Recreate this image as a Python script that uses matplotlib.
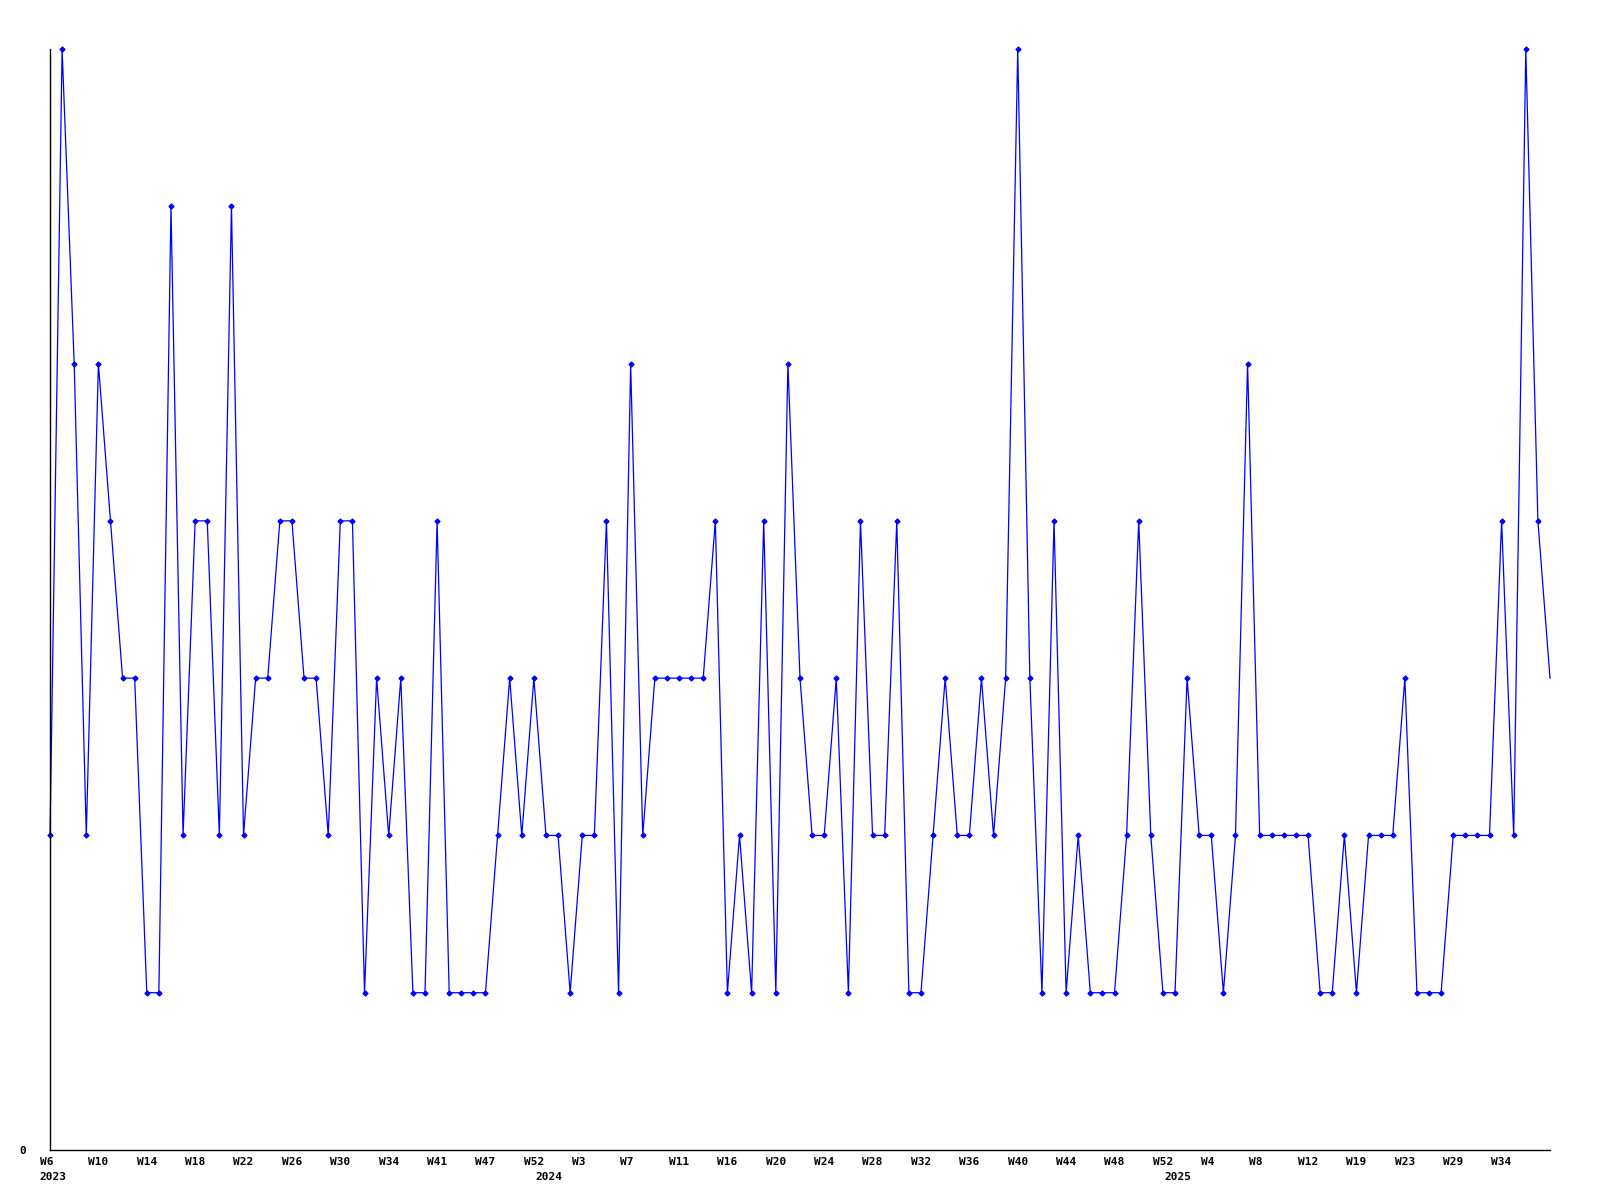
import matplotlib
matplotlib.use("Agg")
import matplotlib.pyplot as plt
import matplotlib.transforms as mtransforms
import numpy as np

# weekly counts, one value per point on the categorical x axis
counts = [2, 7, 5, 2, 5, 4, 3, 3, 1, 1,
          6, 2, 4, 4, 2, 6, 2, 3, 3, 4,
          4, 3, 3, 2, 4, 4, 1, 3, 2, 3,
          1, 1, 4, 1, 1, 1, 1, 2, 3, 2,
          3, 2, 2, 1, 2, 2, 4, 1, 5, 2,
          3, 3, 3, 3, 3, 4, 1, 2, 1, 4,
          1, 5, 3, 2, 2, 3, 1, 4, 2, 2,
          4, 1, 1, 2, 3, 2, 2, 3, 2, 3,
          7, 3, 1, 4, 1, 2, 1, 1, 1, 2,
          4, 2, 1, 1, 3, 2, 2, 1, 2, 5,
          2, 2, 2, 2, 2, 1, 1, 2, 1, 2,
          2, 2, 3, 1, 1, 1, 2, 2, 2, 2,
          4, 2, 7, 4, 3]

# week labels shown every 4th point
week_ticks = [0, 4, 8, 12, 16, 20, 24, 28, 32, 36, 40, 44, 48, 52, 56, 60,
              64, 68, 72, 76, 80, 84, 88, 92, 96, 100, 104, 108, 112, 116, 120]
week_labels = ['W6', 'W10', 'W14', 'W18', 'W22', 'W26', 'W30', 'W34', 'W41',
               'W47', 'W52', 'W3', 'W7', 'W11', 'W16', 'W20', 'W24', 'W28',
               'W32', 'W36', 'W40', 'W44', 'W48', 'W52', 'W4', 'W8', 'W12',
               'W19', 'W23', 'W29', 'W34']

# first point of each year
year_starts = [0, 41, 93]
year_labels = ['2023', '2024', '2025']

x = np.arange(len(counts))

fig = plt.figure(figsize=(16, 12), dpi=100)
ax = fig.add_axes([50/1600, 1 - 1150/1200, 1500/1600, 1101/1200])

# last week is still open, so it gets no marker
ax.plot(x, counts, color='#0000ff', lw=0.9, marker='D', ms=2.5,
        markevery=slice(0, len(counts) - 1), clip_on=False)

ax.set_xlim(0, len(counts) - 1)
ax.set_ylim(0, max(counts))

for side in ['top', 'right']:
    ax.spines[side].set_visible(False)
for side in ['left', 'bottom']:
    ax.spines[side].set_linewidth(1.0)
    ax.spines[side].set_color('black')

font = dict(family='DejaVu Sans Mono', weight='bold', size=8)

ax.set_yticks([0])
ax.set_yticklabels(['0'], **font)
ax.tick_params(axis='y', length=0, pad=17)

ax.set_xticks(week_ticks)
ax.set_xticklabels(week_labels, **font)
ax.tick_params(axis='x', length=0, pad=5)
shift = mtransforms.ScaledTranslation(-0.102, 0, fig.dpi_scale_trans)
for lbl in ax.get_xticklabels():
    lbl.set_horizontalalignment('left')
    lbl.set_transform(lbl.get_transform() + shift)

for pos, yr in zip(year_starts, year_labels):
    ax.annotate(yr, xy=(pos, 0), xycoords=('data', 'axes fraction'),
                xytext=(-7.3, -19.5), textcoords='offset points',
                ha='left', va='center', **font)

fig.savefig('out.png', dpi=100, facecolor='white')
